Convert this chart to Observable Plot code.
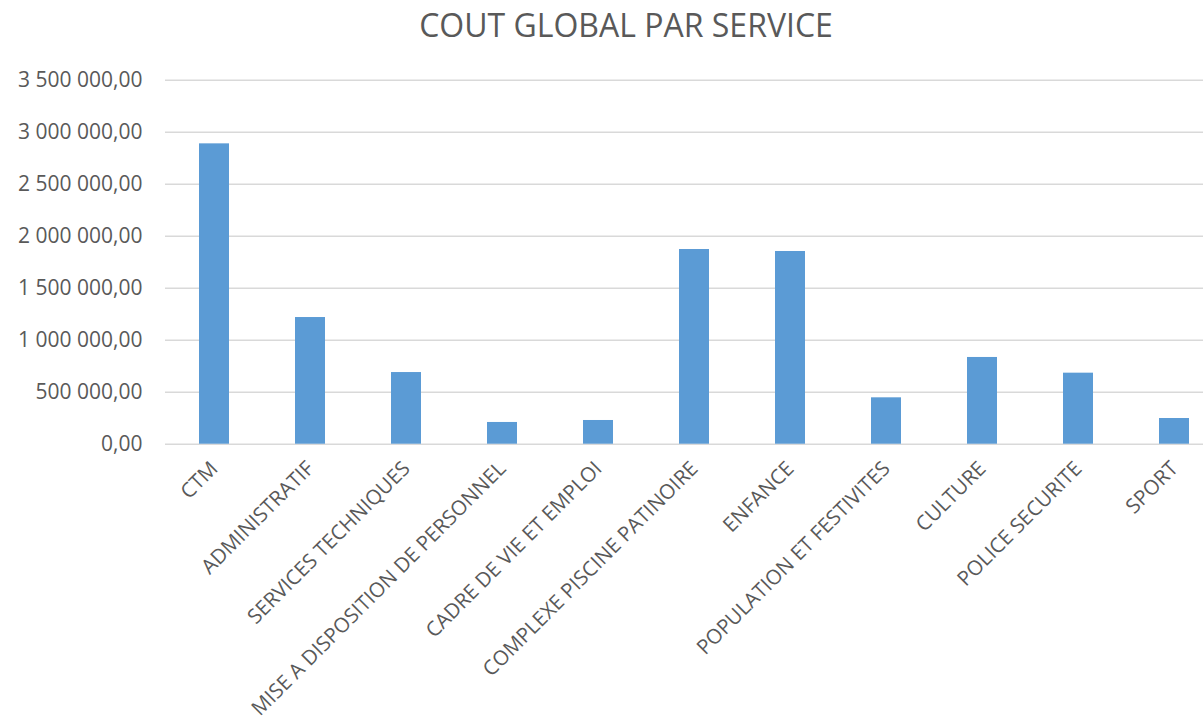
<!DOCTYPE html>
<html>
<head>
<meta charset="utf-8">
<script src="https://cdn.jsdelivr.net/npm/d3@7"></script>
<script src="https://cdn.jsdelivr.net/npm/@observablehq/plot@0.6"></script>
<style>
  html, body { margin: 0; padding: 0; background: #fff; }
  #wrap { width: 1203px; height: 723px; overflow: hidden; position: relative; }
  #title {
    width: 1252px; height: 50px; line-height: 50px; text-align: center;
    font-family: "Open Sans", sans-serif; font-size: 32px; color: #595959;
    white-space: nowrap;
  }
</style>
</head>
<body>
<div id="wrap">
  <div id="title">COUT GLOBAL PAR SERVICE</div>
  <div id="chart"></div>
</div>
<script>
// Services (in display order) and their total cost
const services = [
  "CTM",
  "ADMINISTRATIF",
  "SERVICES TECHNIQUES",
  "MISE A DISPOSITION DE PERSONNEL",
  "CADRE DE VIE ET EMPLOI",
  "COMPLEXE PISCINE PATINOIRE",
  "ENFANCE",
  "POPULATION ET FESTIVITES",
  "CULTURE",
  "POLICE SECURITE",
  "SPORT"
];
const costs = [
  2888000, 1218000, 689000, 209000, 228000,
  1872000, 1853000, 446000, 834000, 683000, 247000
];

// Value axis ticks and their labels
const yTicks = [0, 500000, 1000000, 1500000, 2000000, 2500000, 3000000, 3500000];
const yTickLabels = [
  "0,00", "500 000,00", "1 000 000,00", "1 500 000,00",
  "2 000 000,00", "2 500 000,00", "3 000 000,00", "3 500 000,00"
];

const rows = services.map((s, i) => ({service: s, cost: costs[i]}));

const textColor = "#595959";
const gridColor = "#d9d9d9";

const chart = Plot.plot({
  width: 1203,
  height: 673,
  marginTop: 29.7,
  marginBottom: 279.3,
  marginLeft: 165,
  marginRight: 0,
  style: {fontFamily: "'Open Sans', sans-serif", fontSize: "20px", color: textColor, background: "#fff"},
  x: {domain: services, range: [165, 1223], paddingInner: 0.688, paddingOuter: 0.344},
  y: {domain: [0, 3500000]},
  marks: [
    Plot.ruleY(yTicks, {stroke: gridColor, strokeWidth: 1.5}),
    Plot.barY(rows, {x: "service", y: "cost", fill: "#5b9bd5"}),
    Plot.axisY({
      ticks: yTicks,
      tickFormat: (d) => yTickLabels[yTicks.indexOf(d)],
      tickSize: 0,
      tickPadding: 23,
      fill: textColor,
      fontSize: 21,
      label: null
    }),
    Plot.axisX({
      tickSize: 0,
      tickPadding: 21,
      tickRotate: -45,
      fill: textColor,
      fontSize: 20.5,
      label: null
    })
  ]
});
document.getElementById("chart").appendChild(chart);
</script>
</body>
</html>
